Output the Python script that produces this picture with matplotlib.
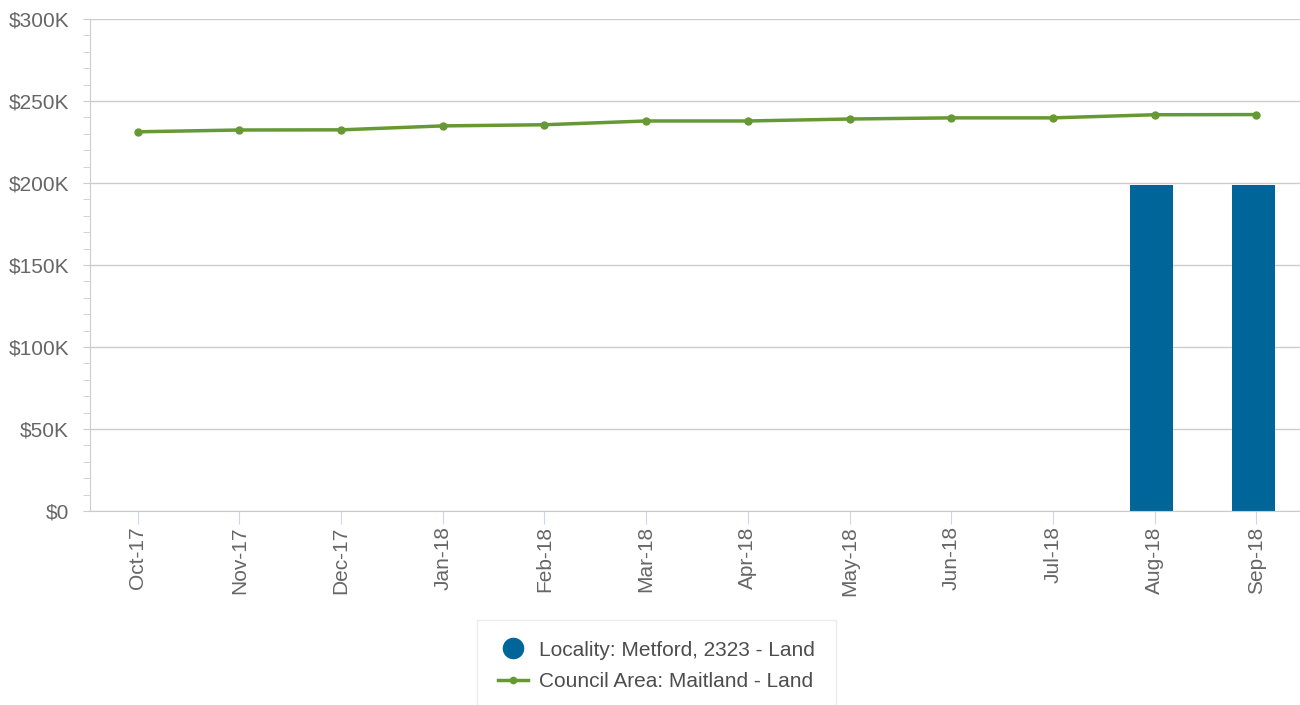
import numpy as np
import matplotlib.pyplot as plt
from matplotlib.ticker import MultipleLocator, FuncFormatter
from matplotlib.lines import Line2D

months = ['Oct-17', 'Nov-17', 'Dec-17', 'Jan-18', 'Feb-18', 'Mar-18',
          'Apr-18', 'May-18', 'Jun-18', 'Jul-18', 'Aug-18', 'Sep-18']
# locality median (only last two months have data)
locality = [None, None, None, None, None, None, None, None, None, None, 199000, 199000]
council = [231200, 232300, 232400, 234800, 235500, 237800,
           237800, 239000, 239700, 239700, 241600, 241700]

blue = '#00669a'
green = '#669933'
grey_txt = '#666666'

plt.rcParams['font.family'] = ['Liberation Sans', 'DejaVu Sans']

fig = plt.figure(figsize=(13, 7.05), dpi=100)
ax = fig.add_axes([0.0692, 0.2752, 0.9308, 0.6979])

x = np.arange(len(months))
bx = [i for i, v in zip(x, locality) if v is not None]
bv = [v for v in locality if v is not None]
ax.bar(np.array(bx) - 0.03, bv, width=0.42, color=blue, zorder=2)
ax.plot(x, council, color=green, lw=2.5, marker='o', ms=5, zorder=3)

ax.set_xlim(-0.47, 11.43)
ax.set_ylim(0, 300000)
ax.yaxis.set_major_locator(MultipleLocator(50000))
ax.yaxis.set_minor_locator(MultipleLocator(10000))
ax.yaxis.set_major_formatter(FuncFormatter(lambda v, p: '$0' if v == 0 else f'${int(v/1000)}K'))
ax.grid(axis='y', color='#cccccc', lw=1, zorder=0)

ax.set_xticks(x)
ax.set_xticklabels(months, rotation=90)

for s in ['top', 'right']:
    ax.spines[s].set_visible(False)
ax.spines['left'].set_color('#cccccc')
ax.spines['bottom'].set_color('#cccccc')

ax.tick_params(axis='y', which='major', length=5, color='#cccccc', labelsize=15,
               labelcolor=grey_txt, pad=10)
ax.tick_params(axis='y', which='minor', length=5, color='#cccccc')
ax.tick_params(axis='x', length=9, color='#ccd6eb', labelsize=15, labelcolor=grey_txt, pad=2)

handles = [
    Line2D([], [], ls='none', marker='o', ms=14.5, color=blue),
    Line2D([], [], color=green, lw=2.5, marker='o', ms=4.5),
]
labels = ['Locality: Metford, 2323 - Land', 'Council Area: Maitland - Land']
leg = fig.legend(handles, labels, loc='upper center', bbox_to_anchor=(0.505, 0.121),
                 frameon=True, fancybox=False, fontsize=15, handlelength=1.45,
                 handletextpad=0.55, borderpad=1.0, labelspacing=0.6, borderaxespad=0)
leg.get_frame().set_edgecolor('#e6e6e6')
for t in leg.get_texts():
    t.set_color('#4d4d4d')

fig.savefig('out.png', dpi=100)
